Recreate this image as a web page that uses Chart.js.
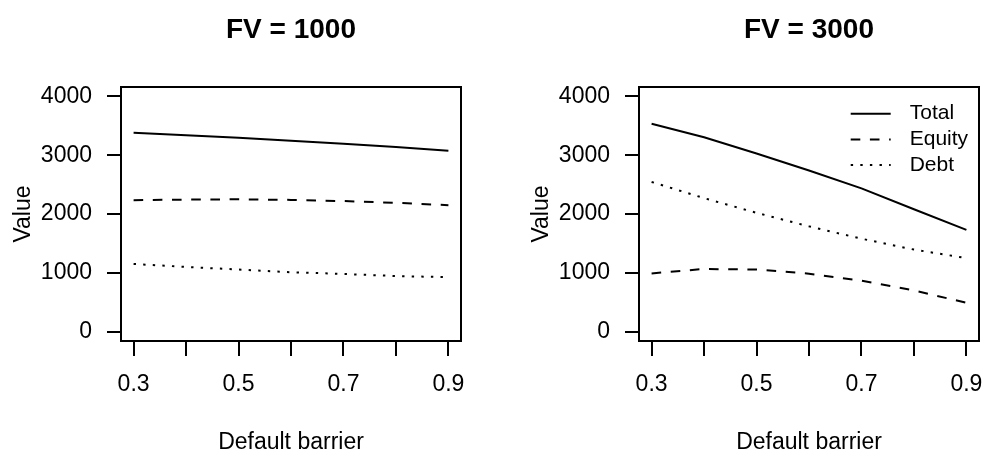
<!DOCTYPE html>
<html>
<head>
<meta charset="utf-8">
<title>Firm value vs default barrier</title>
<script src="https://cdn.jsdelivr.net/npm/chart.js@4"></script>
<style>
  html, body { margin: 0; padding: 0; background: #fff; overflow: hidden; width: 985px; height: 452px; position: relative; }
  canvas { position: absolute; top: 0; }
  #panelA { left: 0; }
  #panelB { left: 518px; }
</style>
</head>
<body>
<canvas id="panelA" width="492" height="460"></canvas>
<canvas id="panelB" width="492" height="460"></canvas>
<script>
// Default barrier grid (x values)
const barrier = [0.3, 0.4, 0.5, 0.6, 0.7, 0.8, 0.9];

// Face value 1000
const fv1000Total  = [3380, 3340, 3295, 3245, 3195, 3140, 3075];
const fv1000Equity = [2235, 2245, 2250, 2240, 2220, 2190, 2150];
const fv1000Debt   = [1150, 1100, 1055, 1010, 980, 945, 925];

// Face value 3000
const fv3000Total  = [3535, 3305, 3030, 2740, 2435, 2080, 1730];
const fv3000Equity = [990, 1065, 1055, 985, 865, 700, 490];
const fv3000Debt   = [2545, 2270, 2020, 1790, 1580, 1395, 1250];

// Axis ticks and labels
const xTicks = [0.3, 0.4, 0.5, 0.6, 0.7, 0.8, 0.9];
const xTickLabels = ['0.3', '', '0.5', '', '0.7', '', '0.9'];
const yTicks = [0, 1000, 2000, 3000, 4000];
const seriesNames = ['Total', 'Equity', 'Debt'];
const panelTitles = ['FV = 1000', 'FV = 3000'];

const FONT = "'Liberation Sans', Arial, Helvetica, sans-serif";
const lineDashes = [[], [9.6, 9.6], [2.4, 7.2]];

// Frame around the plotting region
const frame = {
  id: 'frame',
  afterDraw(chart) {
    const { ctx, chartArea: a } = chart;
    ctx.save();
    ctx.setLineDash([]);
    ctx.strokeStyle = '#000';
    ctx.lineWidth = 2;
    ctx.strokeRect(a.left, a.top, a.right - a.left, a.bottom - a.top);
    ctx.restore();
  }
};

// Borderless line key drawn inside the top-right corner
const seriesKey = {
  id: 'seriesKey',
  afterDatasetsDraw(chart, args, opts) {
    if (!opts.display) return;
    const { ctx, chartArea: a } = chart;
    ctx.save();
    ctx.font = opts.fontSize + 'px ' + FONT;
    ctx.textBaseline = 'middle';
    ctx.textAlign = 'left';
    ctx.fillStyle = '#000';
    chart.data.datasets.forEach((ds, i) => {
      const y = a.top + opts.firstRow + i * opts.rowGap;
      ctx.beginPath();
      ctx.setLineDash(ds.borderDash || []);
      ctx.lineCap = 'butt';
      ctx.lineWidth = ds.borderWidth;
      ctx.strokeStyle = ds.borderColor;
      ctx.moveTo(a.right - opts.lineStart, y);
      ctx.lineTo(a.right - opts.lineEnd, y);
      ctx.stroke();
      ctx.setLineDash([]);
      ctx.fillText(ds.label, a.right - opts.textOffset, y);
    });
    ctx.restore();
  }
};

function makeDataset(name, values, idx) {
  return {
    label: name,
    data: barrier.map((x, i) => ({ x: x, y: values[i] })),
    borderColor: '#000',
    borderWidth: 2,
    borderDash: lineDashes[idx],
    borderCapStyle: 'butt',
    pointRadius: 0,
    pointHoverRadius: 0,
    fill: false,
    tension: 0
  };
}

function makePanel(canvasId, title, series, withKey) {
  const canvas = document.getElementById(canvasId);
  const H = canvas.height;
  return new Chart(canvas, {
    type: 'line',
    data: {
      datasets: series.map((vals, i) => makeDataset(seriesNames[i], vals, i))
    },
    options: {
      responsive: false,
      animation: false,
      devicePixelRatio: 1,
      layout: { padding: { left: 0, right: 31, top: 0, bottom: 0 } },
      plugins: {
        legend: { display: false },
        tooltip: { enabled: false },
        title: {
          display: true,
          text: title,
          fullSize: false,
          color: '#000',
          font: { family: FONT, size: 28, weight: 'bold', lineHeight: 1.2 },
          padding: { top: 13.5, bottom: 39.9 }
        },
        seriesKey: {
          display: withKey,
          fontSize: 21,
          firstRow: 26.7,
          rowGap: 25.7,
          lineStart: 128.3,
          lineEnd: 88.3,
          textOffset: 69.3
        }
      },
      scales: {
        x: {
          type: 'linear',
          min: 0.276,
          max: 0.924,
          afterBuildTicks: s => { s.ticks = xTicks.map(v => ({ value: v })); },
          afterFit: s => { s.height = H - 341; },
          ticks: {
            autoSkip: false,
            maxRotation: 0,
            minRotation: 0,
            padding: 15,
            color: '#000',
            font: { family: FONT, size: 23 },
            callback: (v, i) => xTickLabels[i]
          },
          grid: { display: true, drawOnChartArea: false, drawTicks: true, tickLength: 15, color: '#000', lineWidth: 2 },
          border: { display: false },
          title: {
            display: true,
            text: 'Default barrier',
            color: '#000',
            font: { family: FONT, size: 23, lineHeight: 1.2 },
            padding: { top: 0, bottom: 4 }
          }
        },
        y: {
          type: 'linear',
          min: -160,
          max: 4160,
          afterBuildTicks: s => { s.ticks = yTicks.map(v => ({ value: v })); },
          afterFit: s => { s.width = 121; },
          ticks: {
            padding: 15,
            color: '#000',
            font: { family: FONT, size: 23 },
            callback: v => String(v)
          },
          grid: { display: true, drawOnChartArea: false, drawTicks: true, tickLength: 14, color: '#000', lineWidth: 2 },
          border: { display: false },
          title: {
            display: true,
            text: 'Value',
            color: '#000',
            font: { family: FONT, size: 23, lineHeight: 1.2 },
            padding: { top: 10, bottom: 0 }
          }
        }
      }
    },
    plugins: [frame, seriesKey]
  });
}

makePanel('panelA', panelTitles[0], [fv1000Total, fv1000Equity, fv1000Debt], false);
makePanel('panelB', panelTitles[1], [fv3000Total, fv3000Equity, fv3000Debt], true);
</script>
</body>
</html>
